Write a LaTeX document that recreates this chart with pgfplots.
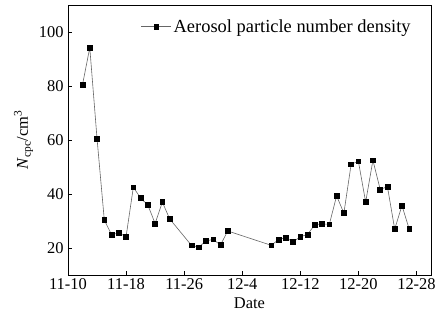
\documentclass[border=0pt]{standalone}
\usepackage{pgfplots}
\pgfplotsset{compat=1.18}
\usepackage{fontspec}
\setmainfont{Liberation Serif}
\begin{document}
\begin{tikzpicture}
\begin{axis}[
  scale only axis,
  width=363bp, height=270bp,
  xmin=0, xmax=50, ymin=10, ymax=110,
  xtick={0,8,16,24,32,40,48},
  xticklabels={11-10,11-18,11-26,12-4,12-12,12-20,12-28},
  ytick={20,40,60,80,100},
  tick align=inside,
  tick pos=left,
  major tick length=4bp,
  axis line style={line width=0.9pt, black},
  tick style={line width=0.7pt, black},
  /pgf/number format/assume math mode=true,
  ticklabel style={font=\fontsize{16.5}{18}\selectfont},
  xticklabel style={yshift=0bp},
  yticklabel style={xshift=-1bp},
  xlabel={Date},
  xlabel style={font=\fontsize{16.5}{18}\selectfont, yshift=-1bp},
  ylabel={\textit{N}\textsubscript{cpc}/cm\textsuperscript{3}},
  ylabel style={font=\fontsize{16.5}{18}\selectfont, yshift=-1bp},
  legend style={draw=none, fill=none, at={(0.95,0.955)}, anchor=north east,
    font=\fontsize{18.5}{20}\selectfont, inner sep=0pt},
  legend cell align=left,
  legend image code/.code={
    \draw[#1, mark repeat=2, mark phase=2] plot coordinates {(0bp,0bp) (15bp,0bp) (30bp,0bp)};
  },
]
\addplot[gray!80!black, line width=0.6pt, mark=square*, mark size=2.4pt,
  mark options={fill=black, draw=black}] coordinates {
(2,80.5) (3,94.2) (4,60.5) (5,30.4) (6,24.9) (7,25.6) (8,24.2) (9,42.5)
(10,38.5) (11,35.9) (12,29.1) (13,37.0) (14,30.8) (17,21.0) (18,20.3)
(19,22.6) (20,23.2) (21,21.1) (22,26.3) (28,21.0) (29,23.1) (30,23.9)
(31,22.2) (32,24.2) (33,25.0) (34,28.7) (35,28.9) (36,28.8) (37,39.3)
(38,32.9) (39,51.0) (40,52.1) (41,37.0) (42,52.5) (43,41.7) (44,42.7)
(45,27.0) (46,35.7) (47,27.0)
};
\addlegendentry{Aerosol particle number density}
\end{axis}
\pgfresetboundingbox
\path (current axis.south west) +(-68bp,-52bp) rectangle +(370bp,275bp);
\end{tikzpicture}
\end{document}
